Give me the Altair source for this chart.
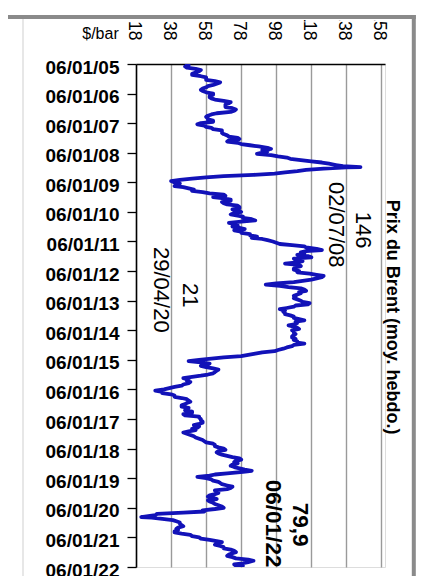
import altair as alt
import pandas as pd

# Weekly Brent price, read as two points per month (6th and 21st), $/bbl
years = list(range(2005, 2022))
v2005 = [46, 48, 46, 47, 52, 55, 54, 52, 50, 50, 55, 58, 58, 58, 63, 66, 64, 62, 59, 58, 56, 55, 56, 58]
v2006 = [62, 62, 60, 60, 61, 63, 68, 72, 71, 69, 69, 69, 73, 75, 74, 72, 64, 61, 59, 58, 59, 59, 62, 62]
v2007 = [55, 53, 57, 58, 61, 62, 67, 67, 67, 68, 70, 71, 76, 77, 71, 70, 76, 78, 83, 88, 93, 95, 90, 93]
v2008 = [90, 87, 95, 99, 104, 106, 112, 118, 124, 128, 132, 136, 138, 125, 115, 110, 103, 97, 85, 68, 58, 50, 43, 38]
v2009 = [40, 43, 41, 40, 45, 48, 51, 50, 56, 60, 68, 69, 62, 67, 72, 72, 67, 68, 70, 76, 77, 77, 73, 76]
v2010 = [78, 74, 72, 76, 79, 79, 84, 86, 78, 71, 75, 76, 73, 77, 80, 74, 78, 78, 83, 83, 87, 84, 90, 93]
v2011 = [96, 98, 100, 107, 114, 115, 121, 124, 115, 112, 114, 110, 116, 118, 108, 109, 113, 110, 103, 111, 112, 109, 108, 108]
v2012 = [111, 110, 117, 121, 125, 124, 121, 118, 113, 108, 98, 92, 100, 105, 112, 114, 115, 111, 112, 110, 108, 109, 108, 110]
v2013 = [112, 113, 117, 116, 109, 108, 104, 100, 103, 102, 103, 103, 106, 108, 108, 111, 114, 109, 110, 109, 105, 108, 110, 111]
v2014 = [107, 108, 108, 109, 108, 107, 107, 109, 108, 110, 110, 114, 108, 107, 104, 102, 99, 97, 90, 86, 82, 78, 68, 61]
v2015 = [54, 48, 55, 60, 57, 55, 58, 62, 65, 64, 63, 62, 59, 55, 49, 45, 48, 47, 49, 48, 45, 44, 40, 37]
v2016 = [34, 29, 33, 33, 38, 40, 40, 44, 47, 48, 49, 47, 46, 44, 44, 48, 47, 46, 50, 50, 45, 46, 54, 54]
v2017 = [55, 55, 56, 56, 54, 51, 54, 53, 50, 52, 48, 45, 47, 49, 51, 52, 54, 56, 57, 58, 62, 63, 63, 65]
v2018 = [68, 69, 65, 64, 65, 67, 70, 73, 77, 78, 75, 74, 76, 73, 72, 74, 77, 80, 84, 79, 70, 63, 60, 53]
v2019 = [58, 61, 62, 65, 66, 67, 70, 73, 72, 70, 63, 64, 65, 63, 60, 59, 62, 64, 59, 60, 62, 63, 65, 67]
v2020 = [68, 63, 56, 57, 45, 30, 29, 24, 27, 33, 39, 41, 43, 43, 44, 45, 42, 41, 42, 40, 40, 44, 49, 50]
v2021 = [54, 55, 60, 64, 67, 64, 63, 66, 68, 68, 72, 74, 75, 73, 71, 70, 73, 75, 82, 85, 82, 79, 74, 75]
series = [v2005, v2006, v2007, v2008, v2009, v2010, v2011, v2012, v2013,
          v2014, v2015, v2016, v2017, v2018, v2019, v2020, v2021]
days = [6, 21]

# single weekly points (peak, low, last value)
extra_dates = ["2008-07-02", "2020-04-29", "2022-01-06"]
extra_values = [146, 21, 79.9]

# y axis ticks, x axis ticks
tick_years = list(range(2005, 2023))
x_ticks = [18, 38, 58, 78, 98, 118, 138, 158]

# annotations
ann_text = ["02/07/08", "146", "29/04/20", "21", "06/01/22", "79,9", "Prix du Brent (moy. hebdo.)"]
ann_price = [132, 147.3, 32.2, 48.8, 96.3, 111.4, 163.9]
ann_date = ["2009-01-01", "2010-01-05", "2011-03-15", "2012-06-01", "2019-01-26", "2019-11-06", "2009-08-10"]
ann_style = ["n", "n", "n", "n", "b", "b", "t"]

rows = []
for y, vals in zip(years, series):
    for i, v in enumerate(vals):
        m = i // 2 + 1
        d = days[i % 2]
        rows.append({"date": f"{y}-{m:02d}-{d:02d}T00:00:00", "prix": v})
for d, v in zip(extra_dates, extra_values):
    rows.append({"date": d + "T00:00:00", "prix": v})
df = pd.DataFrame(rows).sort_values("date").reset_index(drop=True)

ann = pd.DataFrame({
    "txt": ann_text,
    "prix": ann_price,
    "date": [d + "T00:00:00" for d in ann_date],
    "st": ann_style,
})

FONT = "Liberation Sans"

x_scale = alt.Scale(domain=[18, 160], nice=False, zero=False)
y_scale = alt.Scale(
    domain=[alt.DateTime(year=2005, month=1, date=6), alt.DateTime(year=2022, month=1, date=6)],
    reverse=True, nice=False)

x_axis = alt.Axis(
    orient="top", values=x_ticks, tickCount=40, labelAngle=90, labelAlign="right",
    labelBaseline="middle", labelPadding=24, labelOffset=-3, labelFontSize=17.5,
    labelColor="black", labelFont=FONT, labelFlush=False, labelOverlap=False,
    ticks=False, domain=True, domainColor="black", domainWidth=1.5,
    grid=True, gridColor="#9a9a9a", gridWidth=1.4,
    title="$/bar", titleAngle=0, titleX=-36, titleY=-31, titleAlign="center",
    titleBaseline="middle", titleFontSize=16, titleFontWeight="normal", titleColor="black",
    titleFont=FONT)

y_axis = alt.Axis(
    orient="left", values=[alt.DateTime(year=y, month=1, date=6) for y in tick_years],
    tickCount=60, format="%d/%m/%y", labelFontSize=19, labelFontWeight="bold",
    labelColor="black", labelFont=FONT, labelPadding=8, labelOffset=3, labelFlush=False,
    labelOverlap=False, tickSize=9, tickColor="black", tickWidth=1.3,
    domainColor="black", domainWidth=1.5, grid=False, title="")

line = alt.Chart(df).mark_line(color="#1212B8", strokeWidth=3.8, strokeJoin="round", clip=True).encode(
    x=alt.X("prix:Q", scale=x_scale, axis=x_axis),
    y=alt.Y("date:T", scale=y_scale, axis=y_axis),
    order=alt.Order("date:T"),
)


def text_layer(style, size, weight):
    return alt.Chart(ann).transform_filter(alt.datum.st == style).mark_text(
        angle=90, align="left", baseline="middle", font=FONT, color="black",
        fontSize=size, fontWeight=weight).encode(
        x=alt.X("prix:Q", scale=x_scale),
        y=alt.Y("date:T", scale=y_scale),
        text="txt:N",
    )


t_norm = text_layer("n", 22, "normal")
t_bold = text_layer("b", 22.5, "bold")
t_title = text_layer("t", 18, "bold")

dummy = alt.Data(values=[{"a": 1}])
frame_col = "#8a8a8a"
# white strip at the top of the frame that hides what lies above it
mask = alt.Chart(dummy).mark_rect(color="white").encode(
    x=alt.value(-130), x2=alt.value(285), y=alt.value(-60), y2=alt.value(-44))
band2 = alt.Chart(dummy).mark_rule(color=frame_col, strokeWidth=4).encode(
    x=alt.value(-130), x2=alt.value(279.8), y=alt.value(-47))
right_b = alt.Chart(dummy).mark_rule(color=frame_col, strokeWidth=4).encode(
    x=alt.value(277.8), y=alt.value(-49), y2=alt.value(520))
left_b = alt.Chart(dummy).mark_rule(color="#cfcfcf", strokeWidth=1).encode(
    x=alt.value(-113), y=alt.value(-45), y2=alt.value(520))

chart = alt.layer(line, t_norm, t_bold, t_title, mask, band2, right_b, left_b).properties(
    width=249, height=503,
    autosize=alt.AutoSizeParams(type="none"),
    padding={"left": 128, "top": 56, "right": 31, "bottom": 9},
).configure_view(stroke=None).configure(font=FONT)

chart.save("out.html", embed_options={"renderer": "svg", "actions": False})
